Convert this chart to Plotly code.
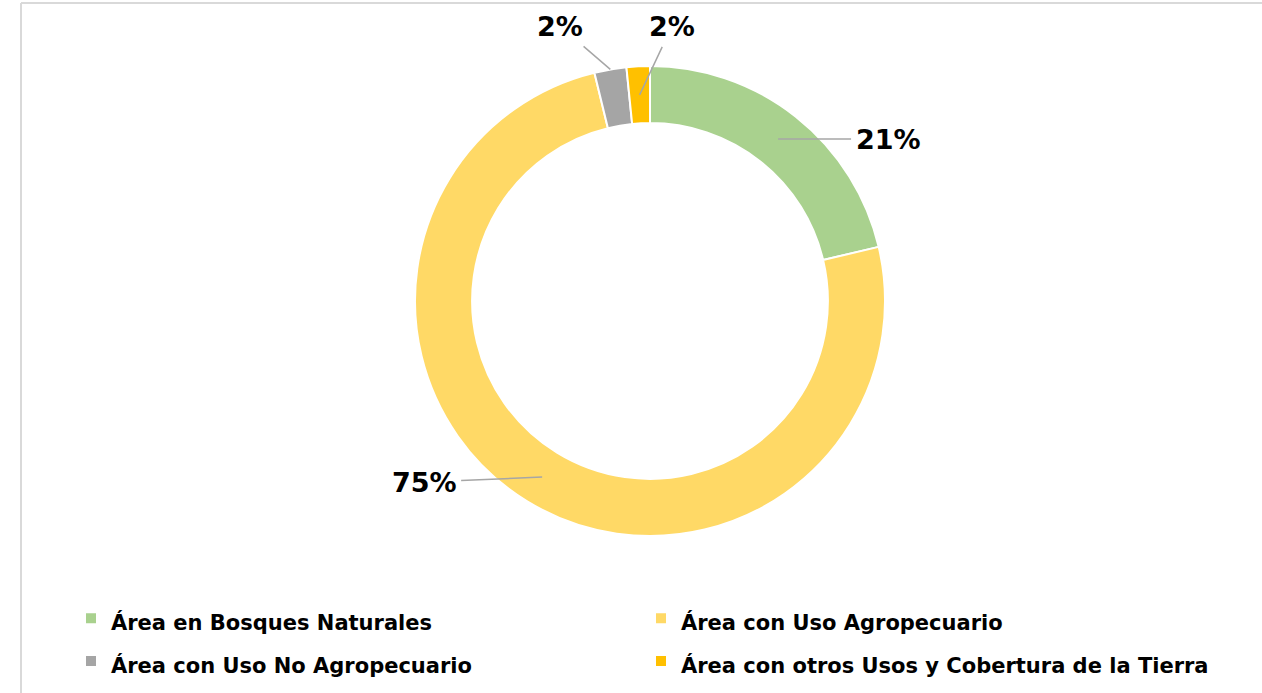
import math
import plotly.graph_objects as go

labels = ["Área en Bosques Naturales", "Área con Uso Agropecuario",
          "Área con Uso No Agropecuario", "Área con otros Usos y Cobertura de la Tierra"]
values = [21.3, 74.9, 2.2, 1.6]
colors = ["#A9D18E", "#FFD966", "#A5A5A5", "#FFC000"]

W, H = 1262, 693
CX, CY, R = 650, 301, 235  # pixel centre and outer radius
HOLE = 0.757

# label offsets (pixels, text centre relative to leader tip) and tip radius fraction
label_offsets = [(110, 0), (-118, 5), (-50, -43), (32, -68)]
tip_radius = [0.5, 0.5, 1.0, 0.5]

legend_text = [f'<span style="font-size:21px">{l}</span>' for l in labels]

fig = go.Figure(go.Pie(
    labels=legend_text, values=values, sort=False, direction="clockwise", rotation=0,
    hole=HOLE, textinfo="none", hoverinfo="label+percent",
    marker=dict(colors=colors, line=dict(color="white", width=2)),
    domain=dict(x=[(CX - R) / W, (CX + R) / W], y=[(H - CY - R) / H, (H - CY + R) / H]),
))

total = sum(values)
cum = 0.0
annotations = []
for v, (ox, oy), tr in zip(values, label_offsets, tip_radius):
    mid = (cum + v / 2) / total * 2 * math.pi
    cum += v
    r = R * HOLE + (R - R * HOLE) * tr
    px = CX + r * math.sin(mid)
    py = CY - r * math.cos(mid)
    annotations.append(dict(
        x=px / W, y=1 - py / H, xref="paper", yref="paper",
        text=f"{round(v / total * 100)}%", showarrow=True, arrowhead=0,
        arrowwidth=1.5, arrowcolor="#A6A6A6", ax=ox, ay=oy, borderpad=4,
        font=dict(family="DejaVu Sans", size=27, color="#000000", weight="bold"),
    ))

fig.update_layout(
    width=W, height=H, margin=dict(l=0, r=0, t=0, b=0),
    paper_bgcolor="white", plot_bgcolor="white",
    annotations=annotations,
    showlegend=True,
    legend=dict(orientation="h", x=71 / W, xanchor="left", y=101 / H, yanchor="top",
                entrywidth=525, entrywidthmode="pixels",
                font=dict(family="DejaVu Sans", size=30.5, color="#000000", weight="bold")),
    shapes=[
        dict(type="line", xref="paper", yref="paper", x0=21 / W, x1=21 / W,
             y0=-0.05, y1=1 - 3 / H, line=dict(color="#D9D9D9", width=2)),
        dict(type="line", xref="paper", yref="paper", x0=21 / W, x1=1.05,
             y0=1 - 3 / H, y1=1 - 3 / H, line=dict(color="#D9D9D9", width=2)),
    ],
)

fig.write_html("out.html", config={"displayModeBar": False},
               post_script="document.body.style.margin='0';")
